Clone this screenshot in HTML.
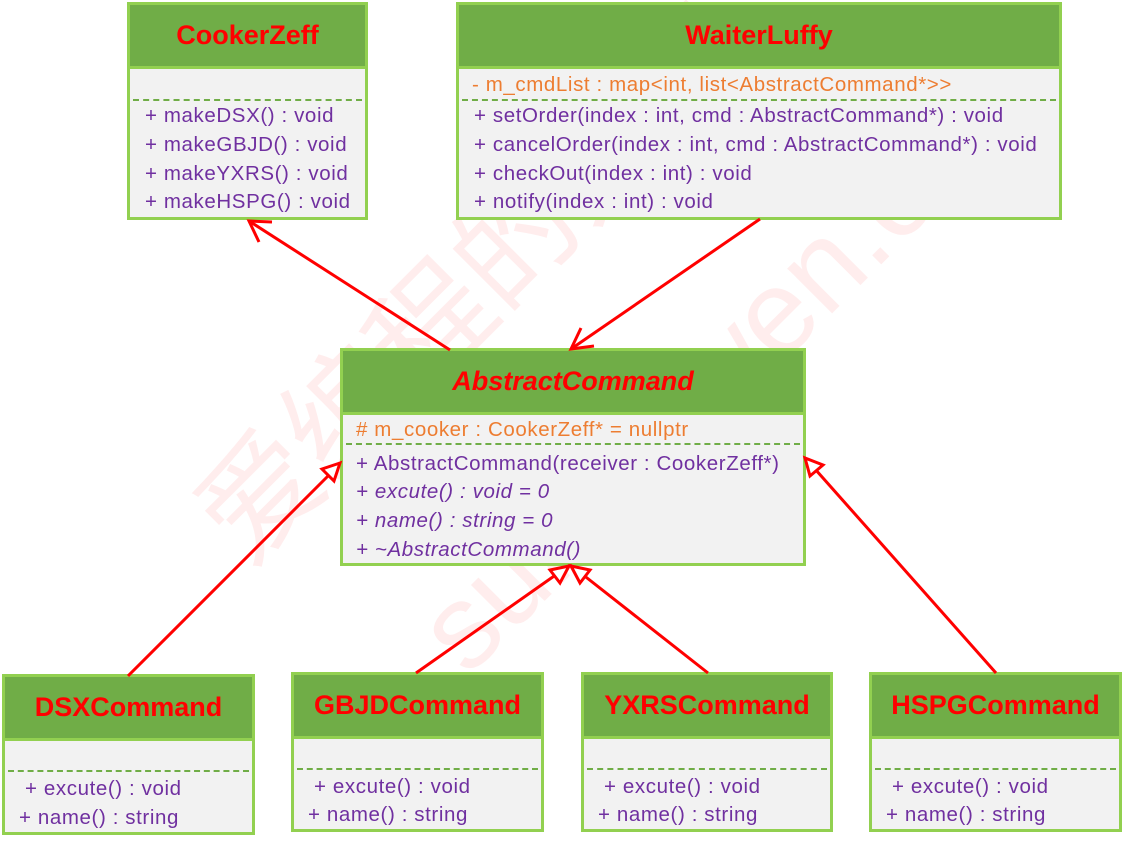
<!DOCTYPE html>
<html><head><meta charset="utf-8"><style>
body{margin:0;width:1124px;height:842px;background:#fff;position:relative;overflow:hidden;font-family:"Liberation Sans","Noto Sans CJK SC",sans-serif}
.b{position:absolute;border:3px solid #92d050;background:#f2f2f2;box-sizing:border-box}
.h{position:absolute;left:0;right:0;top:0;background:#70ad47;border-bottom:3px solid #92d050;color:#f00;font-size:27px;text-align:center;font-weight:bold}
.t{position:absolute;font-size:20.5px;letter-spacing:0.6px;color:#7030a0;white-space:nowrap;line-height:22px}
.o{color:#ed7d31}
.d{position:absolute;left:3px;right:3px;border-top:2px dashed #70ad47}
.i{font-style:italic}
</style></head><body>
<div style="position:absolute;left:150px;top:470px;font-size:120px;color:rgba(255,0,0,0.07);transform:rotate(-45deg);transform-origin:left top;white-space:nowrap">爱编程的大丙</div>
<div style="position:absolute;left:390px;top:600px;font-size:120px;color:rgba(255,0,0,0.07);transform:rotate(-45deg);transform-origin:left top;white-space:nowrap">subingwen.cn</div>

<div class="b" style="left:127px;top:2px;width:241px;height:218px">
<div class="h" style="height:61px;line-height:60px">CookerZeff</div>
<div class="d" style="top:94px"></div>
<div class="t" style="left:15px;top:100px">+ makeDSX() : void</div>
<div class="t" style="left:15px;top:129px">+ makeGBJD() : void</div>
<div class="t" style="left:15px;top:158px">+ makeYXRS() : void</div>
<div class="t" style="left:15px;top:186px">+ makeHSPG() : void</div>
</div>

<div class="b" style="left:456px;top:2px;width:606px;height:218px">
<div class="h" style="height:61px;line-height:60px">WaiterLuffy</div>
<div class="t o" style="left:13px;top:69px">- m_cmdList : map&lt;int, list&lt;AbstractCommand*&gt;&gt;</div>
<div class="d" style="top:94px"></div>
<div class="t" style="left:15px;top:100px">+ setOrder(index : int, cmd : AbstractCommand*) : void</div>
<div class="t" style="left:15px;top:129px">+ cancelOrder(index : int, cmd : AbstractCommand*) : void</div>
<div class="t" style="left:15px;top:158px">+ checkOut(index : int) : void</div>
<div class="t" style="left:15px;top:186px">+ notify(index : int) : void</div>
</div>

<div class="b" style="left:340px;top:348px;width:466px;height:218px">
<div class="h i" style="height:61px;line-height:60px">AbstractCommand</div>
<div class="t o" style="left:13px;top:68px">#&nbsp;m_cooker : CookerZeff* = nullptr</div>
<div class="d" style="top:92px"></div>
<div class="t" style="left:13px;top:102px">+ AbstractCommand(receiver : CookerZeff*)</div>
<div class="t i" style="left:13px;top:130px">+ excute() : void = 0</div>
<div class="t i" style="left:13px;top:159px">+ name() : string = 0</div>
<div class="t i" style="left:13px;top:188px">+ ~AbstractCommand()</div>
</div>

<div class="b" style="left:2px;top:674px;width:253px;height:161px">
<div class="h" style="height:61px;line-height:60px">DSXCommand</div>
<div class="d" style="top:93px"></div>
<div class="t" style="left:20px;top:101px">+ excute() : void</div>
<div class="t" style="left:14px;top:130px">+ name() : string</div>
</div>
<div class="b" style="left:291px;top:672px;width:253px;height:160px">
<div class="h" style="height:61px;line-height:60px">GBJDCommand</div>
<div class="d" style="top:93px"></div>
<div class="t" style="left:20px;top:101px">+ excute() : void</div>
<div class="t" style="left:14px;top:129px">+ name() : string</div>
</div>
<div class="b" style="left:581px;top:672px;width:252px;height:160px">
<div class="h" style="height:61px;line-height:60px">YXRSCommand</div>
<div class="d" style="top:93px"></div>
<div class="t" style="left:20px;top:101px">+ excute() : void</div>
<div class="t" style="left:14px;top:129px">+ name() : string</div>
</div>
<div class="b" style="left:869px;top:672px;width:253px;height:160px">
<div class="h" style="height:61px;line-height:60px">HSPGCommand</div>
<div class="d" style="top:93px"></div>
<div class="t" style="left:20px;top:101px">+ excute() : void</div>
<div class="t" style="left:14px;top:129px">+ name() : string</div>
</div>

<svg width="1124" height="842" style="position:absolute;left:0;top:0" fill="none" stroke="#f00" stroke-width="3">
<line x1="450" y1="350" x2="249" y2="221"/>
<polyline points="272,222 249,221 259,242"/>
<line x1="760" y1="219" x2="571" y2="349"/>
<polyline points="581,328 571,349 594,346"/>
<line x1="128" y1="676" x2="330" y2="474"/>
<polygon points="340,463 322,469 334,481" fill="#fff"/>
<line x1="416" y1="673" x2="557" y2="574"/>
<polygon points="569,566 550,570 560,583" fill="#fff"/>
<line x1="708" y1="673" x2="582" y2="574"/>
<polygon points="571,566 580,583 590,570" fill="#fff"/>
<line x1="996" y1="673" x2="815" y2="469"/>
<polygon points="805,458 810,476 823,465" fill="#fff"/>
</svg>
</body></html>
